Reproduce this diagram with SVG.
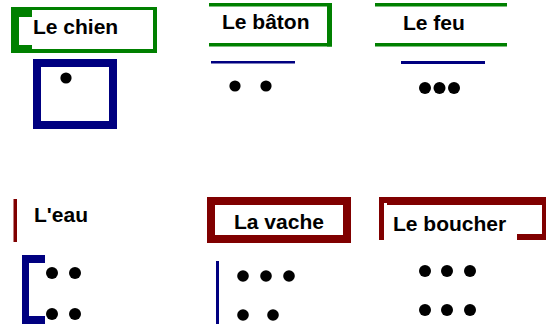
<svg xmlns="http://www.w3.org/2000/svg" width="548" height="324" viewBox="0 0 548 324">
<style>
.lbl{font-family:"Liberation Sans",Arial,sans-serif;font-weight:bold;font-size:21px;fill:#000}
.g{fill:#008000}
.r{fill:#800000}
.b{fill:#000080}
.w{fill:#fff}
.d{fill:#000}
</style>
<rect width="548" height="324" fill="#fff"/>
<g id="chien">
<rect class="g" x="11" y="7" width="146" height="46"/>
<rect class="w" x="32" y="10" width="121" height="39"/>
<rect class="w" x="19" y="17" width="13" height="28"/>
<text class="lbl" x="33" y="34">Le chien</text>
<rect x="37" y="63" width="76" height="62" fill="none" stroke="#000080" stroke-width="8"/>
<circle class="d" cx="66" cy="78" r="5.6"/>
</g>
<g id="baton">
<rect class="g" x="209" y="3" width="123" height="3.5"/>
<rect class="g" x="327" y="3" width="5" height="43.5"/>
<rect class="g" x="209" y="43" width="123" height="3.5"/>
<text class="lbl" x="222" y="29">Le bâton</text>
<rect class="b" x="211" y="61" width="84" height="2.5"/>
<circle class="d" cx="235" cy="86" r="5.6"/>
<circle class="d" cx="266" cy="86" r="5.6"/>
</g>
<g id="feu">
<rect class="g" x="375" y="3" width="132" height="3.5"/>
<rect class="g" x="375" y="43" width="132" height="3.5"/>
<text class="lbl" x="403" y="30">Le feu</text>
<rect class="b" x="401" y="61" width="84" height="3"/>
<circle class="d" cx="425" cy="88" r="6"/>
<circle class="d" cx="439.5" cy="88" r="6"/>
<circle class="d" cx="454" cy="88" r="6"/>
</g>
<g id="eau">
<rect class="r" x="13.5" y="199" width="3.5" height="43"/>
<text class="lbl" x="34" y="222">L'eau</text>
<rect class="b" x="22" y="255" width="7" height="69"/>
<rect class="b" x="22" y="255" width="23" height="8"/>
<rect class="b" x="22" y="316" width="23" height="8"/>
<circle class="d" cx="52" cy="273" r="6"/>
<circle class="d" cx="75" cy="273" r="6"/>
<circle class="d" cx="52" cy="314" r="6"/>
<circle class="d" cx="75" cy="314" r="6"/>
</g>
<g id="vache">
<rect x="211" y="201" width="136" height="38" fill="#fff" stroke="#800000" stroke-width="8"/>
<text class="lbl" x="234" y="229">La vache</text>
<rect class="b" x="216" y="261" width="3" height="63"/>
<circle class="d" cx="243" cy="276" r="5.8"/>
<circle class="d" cx="266" cy="276" r="5.8"/>
<circle class="d" cx="289" cy="276" r="5.8"/>
<circle class="d" cx="243" cy="315" r="5.8"/>
<circle class="d" cx="273" cy="315" r="5.8"/>
</g>
<g id="boucher">
<rect class="r" x="379" y="197" width="167" height="43"/>
<rect class="w" x="384" y="203" width="3" height="43"/>
<rect class="w" x="387" y="205" width="155" height="29"/>
<rect class="w" x="387" y="205" width="130" height="41"/>
<text class="lbl" x="393" y="231">Le boucher</text>
<circle class="d" cx="425" cy="271" r="6"/>
<circle class="d" cx="447" cy="271" r="6"/>
<circle class="d" cx="470" cy="271" r="6"/>
<circle class="d" cx="425" cy="310" r="6"/>
<circle class="d" cx="447" cy="310" r="6"/>
<circle class="d" cx="470" cy="310" r="6"/>
</g>
</svg>
